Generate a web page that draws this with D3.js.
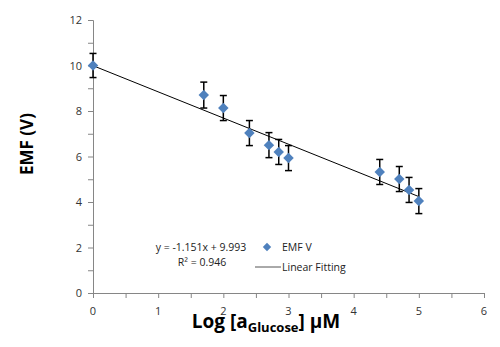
<!DOCTYPE html>
<html>
<head>
<meta charset="utf-8">
<script src="https://cdn.jsdelivr.net/npm/d3@7"></script>
<style>
  body { margin: 0; background: #fff; }
  svg { display: block; font-family: "Open Sans", "Noto Sans", sans-serif; }
</style>
</head>
<body>
<svg id="chart"></svg>
<script>
// data
const logGlucose = [0, 1.70, 2.00, 2.40, 2.70, 2.85, 3.00, 4.40, 4.70, 4.85, 5.00]
const emf = [10.0, 8.70, 8.13, 7.03, 6.50, 6.20, 5.93, 5.32, 5.01, 4.53, 4.04]
const emfError = [0.53, 0.57, 0.55, 0.55, 0.55, 0.55, 0.55, 0.55, 0.55, 0.55, 0.55]
const fitSlope = -1.151
const fitIntercept = 9.993
const fitRange = [0, 5]
const xTicks = [0, 1, 2, 3, 4, 5, 6]
const yTicks = [0, 2, 4, 6, 8, 10, 12]

const width = 500, height = 347
const margin = {top: 20, right: 16, bottom: 54, left: 93}

const svg = d3.select('#chart').attr('width', width).attr('height', height)

const xscale = d3.scaleLinear().domain([0, 6]).range([margin.left, width - margin.right])
const yscale = d3.scaleLinear().domain([0, 12]).range([height - margin.bottom, margin.top])

const axisColor = '#868686'

// minor ticks
const xMinor = d3.axisBottom(xscale).tickValues(d3.range(0, 6.01, 0.5)).tickSize(5).tickFormat('')
const yMinor = d3.axisLeft(yscale).tickValues(d3.range(0, 12.01, 1)).tickSize(5).tickFormat('')

const xg = svg.append('g').attr('transform', `translate(0,${yscale(0)})`).call(xMinor)
const yg = svg.append('g').attr('transform', `translate(${xscale(0)},0)`).call(yMinor)
;[xg, yg].forEach(g => {
  g.select('.domain').attr('stroke', axisColor)
  g.selectAll('line').attr('stroke', axisColor)
})

// tick labels
svg.append('g').selectAll('text').data(xTicks).enter()
  .append('text')
  .attr('x', d => xscale(d))
  .attr('y', yscale(0) + 22)
  .attr('text-anchor', 'middle')
  .attr('font-size', 11)
  .attr('fill', '#333')
  .text(d => d)

svg.append('g').selectAll('text').data(yTicks).enter()
  .append('text')
  .attr('x', xscale(0) - 11)
  .attr('y', d => yscale(d) + 4)
  .attr('text-anchor', 'end')
  .attr('font-size', 11)
  .attr('fill', '#333')
  .text(d => d)

// fitted line
const fitLine = d3.line().x(d => xscale(d)).y(d => yscale(fitSlope * d + fitIntercept))
svg.append('path')
  .attr('d', fitLine(fitRange))
  .attr('stroke', '#000')
  .attr('stroke-width', 1)
  .attr('fill', 'none')

const points = logGlucose.map((x, i) => ({x: x, y: emf[i], e: emfError[i]}))

// error bars
const cap = 3.5
const eb = svg.append('g').attr('stroke', '#000').attr('stroke-width', 1.5)
eb.selectAll('.v').data(points).enter().append('line')
  .attr('x1', d => xscale(d.x)).attr('x2', d => xscale(d.x))
  .attr('y1', d => yscale(d.y + d.e)).attr('y2', d => yscale(d.y - d.e))
eb.selectAll('.t').data(points).enter().append('line')
  .attr('x1', d => xscale(d.x) - cap).attr('x2', d => xscale(d.x) + cap)
  .attr('y1', d => yscale(d.y + d.e)).attr('y2', d => yscale(d.y + d.e))
eb.selectAll('.b').data(points).enter().append('line')
  .attr('x1', d => xscale(d.x) - cap).attr('x2', d => xscale(d.x) + cap)
  .attr('y1', d => yscale(d.y - d.e)).attr('y2', d => yscale(d.y - d.e))

// diamonds
const diamond = d3.symbol().type(d3.symbolDiamond2).size(70)
svg.append('g').selectAll('path').data(points).enter()
  .append('path')
  .attr('d', diamond)
  .attr('transform', d => `translate(${xscale(d.x)},${yscale(d.y)})`)
  .attr('fill', '#4F81BD')

// equation text
svg.append('text').attr('x', 201).attr('y', 251).attr('text-anchor', 'middle')
  .attr('font-size', 10.5).attr('fill', '#222')
  .text(`y = ${fitSlope}x + ${fitIntercept}`)
svg.append('text').attr('x', 202).attr('y', 266).attr('text-anchor', 'middle')
  .attr('font-size', 10.5).attr('fill', '#222')
  .text('R² = 0.946')

// legend
svg.append('path').attr('d', d3.symbol().type(d3.symbolDiamond2).size(45))
  .attr('transform', 'translate(267,247)').attr('fill', '#4F81BD')
svg.append('text').attr('x', 282).attr('y', 251).attr('font-size', 10.5).attr('fill', '#222').text('EMF V')
svg.append('line').attr('x1', 255).attr('x2', 281).attr('y1', 267).attr('y2', 267)
  .attr('stroke', '#555').attr('stroke-width', 1)
svg.append('text').attr('x', 282).attr('y', 271).attr('font-size', 10.5).attr('fill', '#222').text('Linear Fitting')

// axis titles
const xt = svg.append('text').attr('x', 266).attr('y', 328).attr('text-anchor', 'middle')
  .attr('font-size', 19).attr('font-weight', 'bold').attr('fill', '#000')
xt.append('tspan').text('Log [a')
xt.append('tspan').attr('font-size', 13).attr('dy', 4).text('Glucose')
xt.append('tspan').attr('dy', -4).text('] μM')

svg.append('text')
  .attr('transform', 'translate(33,144) rotate(-90)')
  .attr('text-anchor', 'middle')
  .attr('font-size', 17).attr('font-weight', 'bold').attr('fill', '#000')
  .text('EMF (V)')
</script>
</body>
</html>
